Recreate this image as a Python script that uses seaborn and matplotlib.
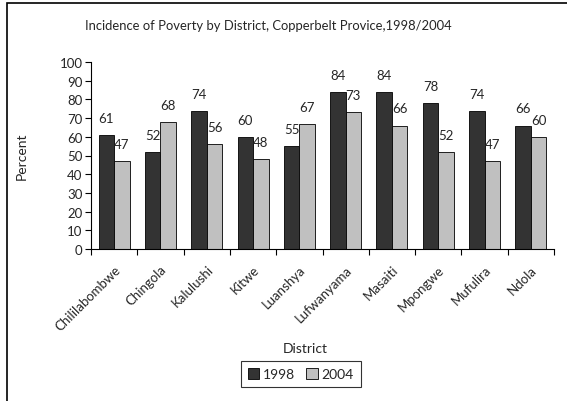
import numpy as np
import pandas as pd
import matplotlib.pyplot as plt
import seaborn as sns
from matplotlib.patches import Rectangle


districts = ["Chililabombwe", "Chingola", "Kalulushi", "Kitwe", "Luanshya",
             "Lufwanyama", "Masaiti", "Mpongwe", "Mufulira", "Ndola"]
poverty_1998 = [61, 52, 74, 60, 55, 84, 84, 78, 74, 66]
poverty_2004 = [47, 68, 56, 48, 67, 73, 66, 52, 47, 60]
years = ["1998", "2004"]

df = pd.DataFrame({
    "District": districts * 2,
    "Percent": poverty_1998 + poverty_2004,
    "Year": [years[0]] * len(districts) + [years[1]] * len(districts),
})

sns.set_style("white")
plt.rcParams["font.family"] = ["Lato", "DejaVu Sans"]
plt.rcParams["font.size"] = 9

W, H = 567, 402
fig = plt.figure(figsize=(W / 100, H / 100), dpi=100)
# 描画領域（ピクセル位置から）
ax = fig.add_axes([91 / W, 1 - 250 / H, (554 - 91) / W, (250 - 63) / H])

sns.barplot(
    data=df, x="District", y="Percent", hue="Year",
    palette={"1998": "#333333", "2004": "#c0c0c0"},
    width=0.67, edgecolor="black", linewidth=0.6, saturation=1,
    ax=ax, legend=False,
)

# データラベル
for cont in ax.containers:
    ax.bar_label(cont, padding=8, fontsize=9.5)

ax.set_xlim(-0.5, len(districts) - 0.5)
ax.set_ylim(0, 100)
ax.set_yticks(range(0, 101, 10))
ax.tick_params(axis="y", direction="out", length=4, width=0.8, color="black",
               labelsize=9.5, pad=2, left=True)

# 目盛りはカテゴリの境目に
ax.set_xticks(np.arange(len(districts)))
ax.set_xticklabels(districts, rotation=45, ha="right", rotation_mode="anchor")
ax.set_xticks(np.arange(len(districts) + 1) - 0.5, minor=True)
ax.tick_params(axis="x", which="major", length=0, labelsize=9.5, pad=10)
ax.tick_params(axis="x", which="minor", direction="out", length=4, width=0.8,
               color="black", bottom=True)

for side in ["top", "right"]:
    ax.spines[side].set_visible(False)
for side in ["left", "bottom"]:
    ax.spines[side].set_color("black")
    ax.spines[side].set_linewidth(0.8)

ax.set_xlabel("District", fontsize=10)
ax.xaxis.set_label_coords((305 - 91) / (554 - 91), -(343 - 250) / (250 - 63))
ax.set_ylabel("Percent", fontsize=10)
ax.yaxis.set_label_coords(-(91 - 28) / (554 - 91), 0.5)

fig.text(268 / W, 1 - 26 / H,
         "Incidence of Poverty by District, Copperbelt Provice,1998/2004",
         ha="center", va="center", fontsize=9.4)

handles = [Rectangle((0, 0), 1, 1, facecolor=c, edgecolor="black", lw=0.6)
           for c in ["#333333", "#c0c0c0"]]
leg = fig.legend(handles, years, loc="center", bbox_to_anchor=(301 / W, 1 - 375 / H),
                 ncol=2, frameon=True, fancybox=False, edgecolor="black",
                 handlelength=0.8, handleheight=0.8, handletextpad=0.3,
                 columnspacing=0.8, borderpad=0.5, fontsize=10)
leg.get_frame().set_linewidth(0.8)

# 外枠
fig.patches.append(Rectangle((7 / W, -0.1), 1.2, 1 - 4 / H + 0.1,
                             transform=fig.transFigure, fill=False,
                             edgecolor="black", lw=1.2))

fig.savefig("out.png", dpi=100)
